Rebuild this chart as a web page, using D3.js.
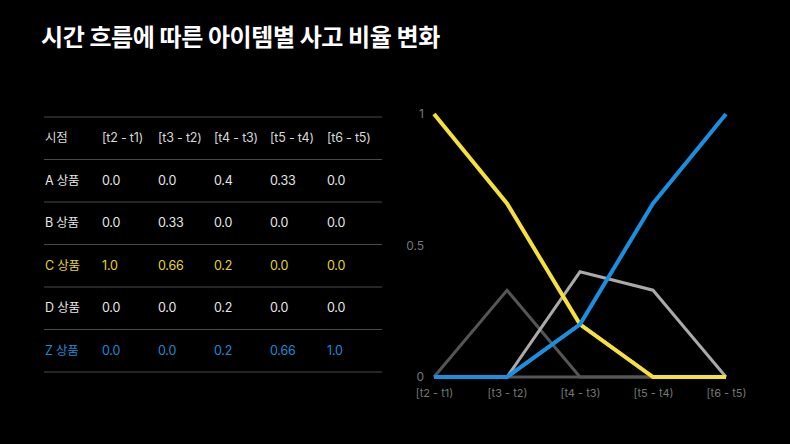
<html>
  <head>
    <meta charset="utf-8">
    <style>
body { margin: 0; background: #000; }
svg { display: block; background: #000; font-family: "Inter", "Noto Sans CJK KR", sans-serif; }
.axis text { fill: #777; font-size: 11px; font-family: "Inter", "Noto Sans CJK KR", sans-serif; }
.axis path, .axis line { display: none; }
    </style>
    <script src="https://d3js.org/d3.v7.min.js"></script>
  </head>
  <body>
    <svg width="790" height="444"></svg>
    <script>

var periods = ["[t2 - t1)", "[t3 - t2)", "[t4 - t3)", "[t5 - t4)", "[t6 - t5)"];
var items = ["A 상품", "B 상품", "C 상품", "D 상품", "Z 상품"];
var valA = [0.0, 0.0, 0.4, 0.33, 0.0];
var valB = [0.0, 0.33, 0.0, 0.0, 0.0];
var valC = [1.0, 0.66, 0.2, 0.0, 0.0];
var valD = [0.0, 0.0, 0.2, 0.0, 0.0];
var valZ = [0.0, 0.0, 0.2, 0.66, 1.0];
var labelsA = ["0.0", "0.0", "0.4", "0.33", "0.0"];
var labelsB = ["0.0", "0.33", "0.0", "0.0", "0.0"];
var labelsC = ["1.0", "0.66", "0.2", "0.0", "0.0"];
var labelsD = ["0.0", "0.0", "0.2", "0.0", "0.0"];
var labelsZ = ["0.0", "0.0", "0.2", "0.66", "1.0"];
var yTicks = [0, 0.5, 1];

var svg = d3.select("svg");

svg.append("text")
  .attr("x", 41).attr("y", 46)
  .attr("fill", "#fff")
  .style("font-family", "'Noto Sans CJK KR', sans-serif")
  .style("font-size", "24px").style("font-weight", "bold")
  .style("letter-spacing", "-0.4px")
  .text("시간 흐름에 따른 아이템별 사고 비율 변화");

// table
var rows = [
  {name: items[0], labels: labelsA, color: "#e6e6e6"},
  {name: items[1], labels: labelsB, color: "#e6e6e6"},
  {name: items[2], labels: labelsC, color: "#e8d42c"},
  {name: items[3], labels: labelsD, color: "#e6e6e6"},
  {name: items[4], labels: labelsZ, color: "#1d8ad8"}
];
var colX = [45, 102, 158, 214, 270, 327];
var rowH = 42.5, tableTop = 117;
var table = svg.append("g").style("font-size", "12.5px");

d3.range(7).forEach(function(i) {
  table.append("line")
    .attr("x1", 44).attr("x2", 382)
    .attr("y1", tableTop + i * rowH).attr("y2", tableTop + i * rowH)
    .attr("stroke", "#4a4a4a").attr("stroke-width", 1.2);
});

var header = ["시점"].concat(periods);
header.forEach(function(h, j) {
  table.append("text")
    .attr("x", colX[j]).attr("y", tableTop + rowH / 2 + 4)
    .attr("fill", "#d8d8d8")
    .style("letter-spacing", "-0.2px")
    .text(h);
});

rows.forEach(function(r, i) {
  var cy = tableTop + (i + 1) * rowH + rowH / 2 + 4;
  [r.name].concat(r.labels).forEach(function(t, j) {
    table.append("text")
      .attr("x", colX[j]).attr("y", cy)
      .attr("fill", r.color)
      .style("letter-spacing", "-0.2px")
      .text(t);
  });
});

// line chart
var x = d3.scalePoint().domain(periods).range([434, 726]);
var y = d3.scaleLinear().domain([0, 1]).range([377, 114]);

svg.append("g")
  .attr("class", "axis")
  .attr("transform", "translate(0,386)")
  .call(d3.axisBottom(x).tickSize(0).tickPadding(3));

svg.append("g").selectAll("text")
  .data(yTicks)
  .enter().append("text")
  .attr("x", 424).attr("y", function(d) { return y(d); })
  .attr("dy", "0.35em")
  .attr("text-anchor", "end")
  .attr("fill", "#777")
  .style("font-size", "12px")
  .text(function(d) { return d; });

svg.append("line")
  .attr("x1", x(periods[0])).attr("x2", x(periods[4]))
  .attr("y1", y(0)).attr("y2", y(0))
  .attr("stroke", "#555").attr("stroke-width", 3);

var line = d3.line()
  .x(function(d, i) { return x(periods[i]); })
  .y(function(d) { return y(d); });

var series = [
  {values: valD, color: "#e6e6e6", width: 3},
  {values: valB, color: "#555555", width: 3},
  {values: valA, color: "#aaaaaa", width: 3},
  {values: valC, color: "#f7e03a", width: 4},
  {values: valZ, color: "#1a8fe0", width: 4}
];

svg.append("g").selectAll("path")
  .data(series)
  .enter().append("path")
  .attr("d", function(d) { return line(d.values); })
  .attr("fill", "none")
  .attr("stroke", function(d) { return d.color; })
  .attr("stroke-width", function(d) { return d.width; });

    </script>
  </body>
</html>
